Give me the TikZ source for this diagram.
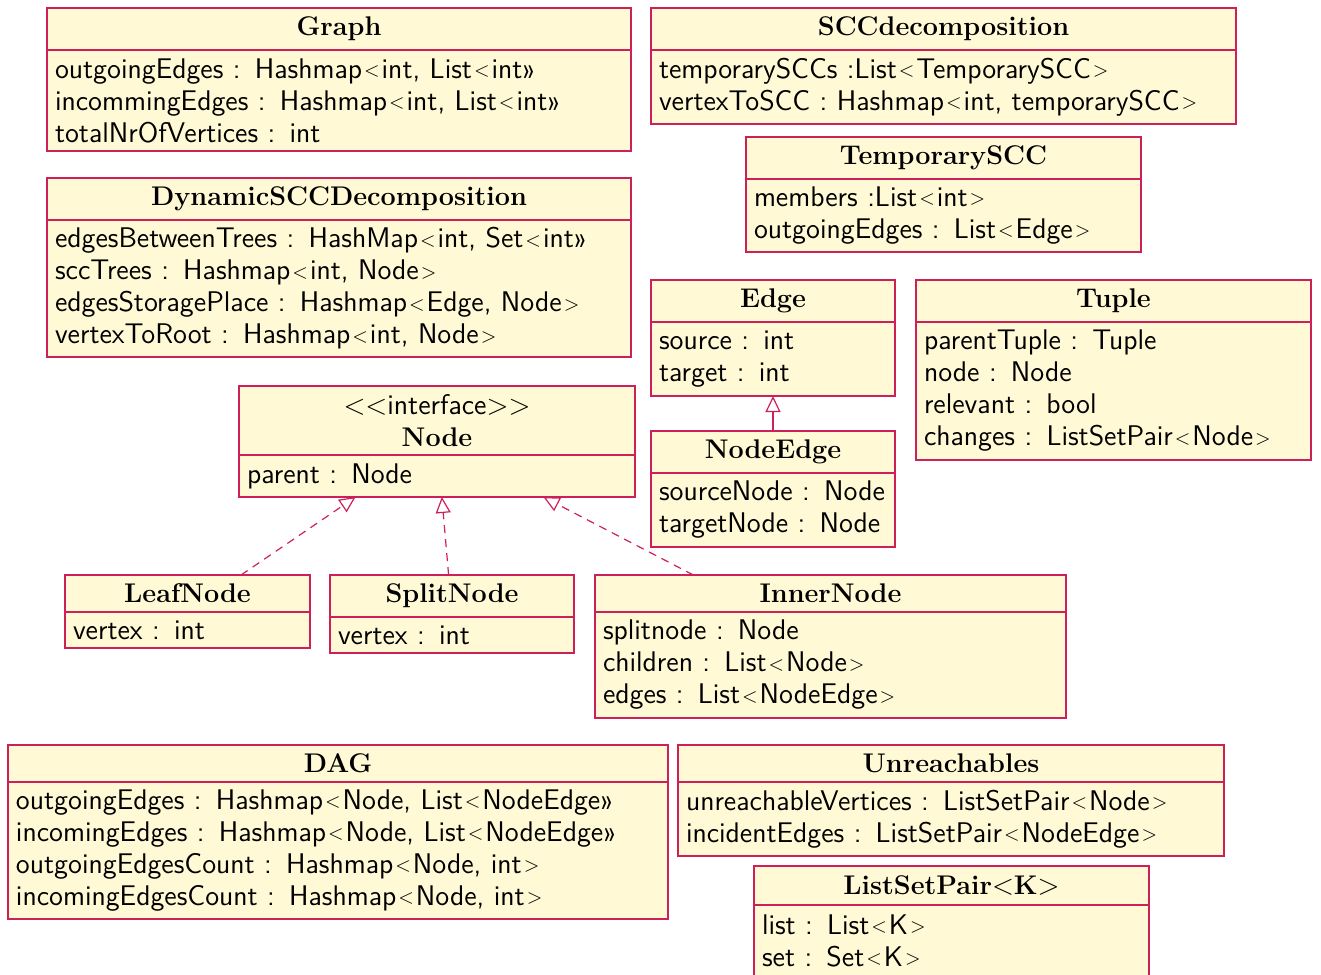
\documentclass[tikz,border=0pt]{standalone}
\usepackage{tikz}
\usetikzlibrary{
  arrows.meta,
  positioning,
  fit
}
\definecolor{umlfill}{RGB}{255,249,214}
\definecolor{umlline}{RGB}{206,32,88}
\newcommand{\tlt}{\kern1pt\raisebox{0.8pt}{$\scriptstyle<$}\kern1pt}
\newcommand{\tgt}{\kern1pt\raisebox{0.8pt}{$\scriptstyle>$}}

\begin{document}
\begin{tikzpicture}[
    x=0.5pt, y=-0.5pt,
    cls/.style={draw=umlline, fill=umlfill, line width=0.8pt, inner sep=0pt, outer sep=0pt, anchor=north},
    head/.style={cls, minimum width=#1, align=center, font=\bfseries\fontsize{13.5}{16}\selectfont},
    attrs/.style={cls, text width=#1, inner xsep=4pt, align=left, font=\sffamily\fontsize{14.2}{16}\selectfont},
    whole/.style={inner sep=0pt, outer sep=0pt},
    impl/.style={umlline, line width=0.6pt, dash pattern=on 4pt off 3pt, -{Triangle[open, length=8pt, width=7.5pt]}},
    inh/.style={umlline, line width=0.6pt, -{Triangle[open, length=8pt, width=7.5pt]}}
  ]
    \clip (0,0) rectangle (1321,974);
    % top row
    \node[head=292pt, minimum height=21pt] (graph-h) at (339,8) {Graph};
    \node[attrs=284pt, minimum height=50.5pt] (graph-b) at (graph-h.south)
      {outgoingEdges : Hashmap\tlt int, List\tlt int»\\
       incommingEdges : Hashmap\tlt int, List\tlt int»\\
       totalNrOfVertices : int};
    \node[head=292.5pt, minimum height=21pt] (scc-h) at (943.5,8) {SCCdecomposition};
    \node[attrs=284.5pt, minimum height=37pt] (scc-b) at (scc-h.south)
      {temporarySCCs :List\tlt TemporarySCC\tgt\\
       vertexToSCC : Hashmap\tlt int, temporarySCC\tgt};
    \node[head=197.5pt, minimum height=21pt] (tmp-h) at (943.5,137) {TemporarySCC};
    \node[attrs=189.5pt, minimum height=36.5pt] (tmp-b) at (tmp-h.south)
      {members :List\tlt int\tgt\\
       outgoingEdges : List\tlt Edge\tgt};
    \node[head=292pt, minimum height=21pt] (dyn-h) at (339,178) {DynamicSCCDecomposition};
    \node[attrs=284pt, minimum height=68.5pt] (dyn-b) at (dyn-h.south)
      {edgesBetweenTrees : HashMap\tlt int, Set\tlt int»\\
       sccTrees : Hashmap\tlt int, Node\tgt\\
       edgesStoragePlace : Hashmap\tlt Edge, Node\tgt\\
       vertexToRoot : Hashmap\tlt int, Node\tgt};
    % edges and tuple
    \node[head=122pt, minimum height=21pt] (edge-h) at (773,280) {Edge};
    \node[attrs=114pt, minimum height=37pt] (edge-b) at (edge-h.south)
      {source : int\\ target : int};
    \node[head=197.5pt, minimum height=21pt] (tuple-h) at (1113.5,280) {Tuple};
    \node[attrs=189.5pt, minimum height=69pt] (tuple-b) at (tuple-h.south)
      {parentTuple : Tuple\\
       node : Node\\
       relevant : bool\\
       changes : ListSetPair\tlt Node\tgt};
    \node[head=122pt, minimum height=21pt] (nedge-h) at (773,431) {NodeEdge};
    \node[attrs=114pt, minimum height=37pt] (nedge-b) at (nedge-h.south)
      {sourceNode : Node\\ targetNode : Node};
    % node interface and its implementations
    \node[head=198pt, minimum height=34.5pt] (iface-h) at (437,386)
      {{\sffamily\mdseries\fontsize{14.2}{16}\selectfont $<<$interface$>>$}\\ Node};
    \node[attrs=190pt, minimum height=21pt] (iface-b) at (iface-h.south) {parent : Node};
    \node[head=122.5pt, minimum height=18.5pt] (leaf-h) at (187.5,575) {LeafNode};
    \node[attrs=114.5pt, minimum height=18pt] (leaf-b) at (leaf-h.south) {vertex : int};
    \node[head=122pt, minimum height=21pt] (split-h) at (452,575) {SplitNode};
    \node[attrs=114pt, minimum height=18pt] (split-b) at (split-h.south) {vertex : int};
    \node[head=235.5pt, minimum height=18.5pt] (inner-h) at (830.5,575) {InnerNode};
    \node[attrs=227.5pt, minimum height=53pt] (inner-b) at (inner-h.south)
      {splitnode : Node\\
       children : List\tlt Node\tgt\\
       edges : List\tlt NodeEdge\tgt};
    % bottom row
    \node[head=330pt, minimum height=18.5pt] (dag-h) at (338,745) {DAG};
    \node[attrs=322pt, minimum height=68.5pt] (dag-b) at (dag-h.south)
      {outgoingEdges : Hashmap\tlt Node, List\tlt NodeEdge»\\
       incomingEdges : Hashmap\tlt Node, List\tlt NodeEdge»\\
       outgoingEdgesCount : Hashmap\tlt Node, int\tgt\\
       incomingEdgesCount : Hashmap\tlt Node, int\tgt};
    \node[head=273pt, minimum height=18.5pt] (unr-h) at (951,745) {Unreachables};
    \node[attrs=265pt, minimum height=37pt] (unr-b) at (unr-h.south)
      {unreachableVertices : ListSetPair\tlt Node\tgt\\
       incidentEdges : ListSetPair\tlt NodeEdge\tgt};
    \node[head=197.5pt, minimum height=19.5pt] (lsp-h) at (951.5,866) {ListSetPair$<$K$>$};
    \node[attrs=189.5pt, minimum height=35.5pt] (lsp-b) at (lsp-h.south)
      {list : List\tlt K\tgt\\ set : Set\tlt K\tgt};
    % whole classes, for the connectors
    \node[whole, fit=(edge-h)(edge-b)] (edge) {};
    \node[whole, fit=(nedge-h)(nedge-b)] (nedge) {};
    \node[whole, fit=(iface-h)(iface-b)] (iface) {};
    \node[whole, fit=(leaf-h)(leaf-b)] (leaf) {};
    \node[whole, fit=(split-h)(split-b)] (split) {};
    \node[whole, fit=(inner-h)(inner-b)] (inner) {};
    \draw[impl] (leaf) -- (iface);
    \draw[impl] (split) -- (iface);
    \draw[impl] (inner) -- (iface);
    \draw[inh] (nedge) -- (edge);
\end{tikzpicture}
\end{document}
